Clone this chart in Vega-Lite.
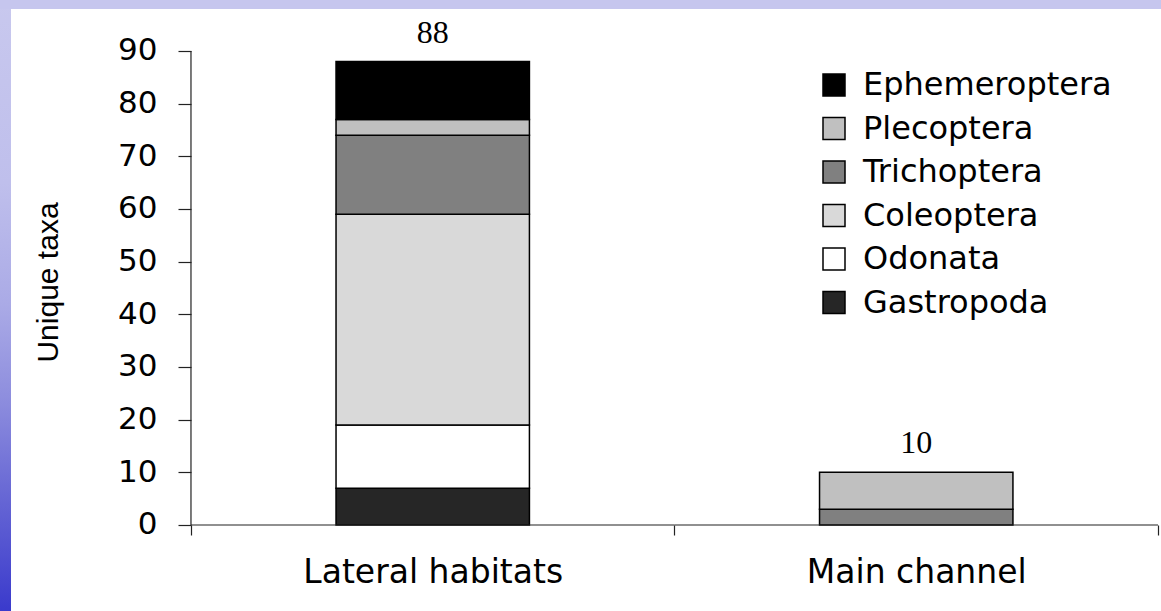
{
  "$schema": "https://vega.github.io/schema/vega-lite/v6.json",
  "width": 1161,
  "height": 611,
  "padding": 0,
  "autosize": {"type": "none"},
  "background": "white",
  "config": {"view": {"stroke": null}},
  "datasets": {
    "taxa": [
      {"habitat": "Lateral habitats", "taxon": "Gastropoda", "level": 1, "n": 7},
      {"habitat": "Lateral habitats", "taxon": "Odonata", "level": 2, "n": 12},
      {"habitat": "Lateral habitats", "taxon": "Coleoptera", "level": 3, "n": 40},
      {"habitat": "Lateral habitats", "taxon": "Trichoptera", "level": 4, "n": 15},
      {"habitat": "Lateral habitats", "taxon": "Plecoptera", "level": 5, "n": 3},
      {"habitat": "Lateral habitats", "taxon": "Ephemeroptera", "level": 6, "n": 11},
      {"habitat": "Main channel", "taxon": "Trichoptera", "level": 4, "n": 3},
      {"habitat": "Main channel", "taxon": "Plecoptera", "level": 5, "n": 7}
    ]
  },
  "data": {"name": "taxa"},
  "layer": [
    {
      "data": {"values": [{}]},
      "mark": {
        "type": "rect",
        "color": {
          "gradient": "linear", "x1": 0, "y1": 0, "x2": 0, "y2": 1,
          "stops": [
            {"offset": 0, "color": "#c8c8ee"},
            {"offset": 0.3, "color": "#bfbfec"},
            {"offset": 0.5, "color": "#aaaae6"},
            {"offset": 0.65, "color": "#8e8ede"},
            {"offset": 0.8, "color": "#6a6ad5"},
            {"offset": 1, "color": "#3a3acc"}
          ]
        }
      },
      "encoding": {}
    },
    {
      "data": {"values": [{}]},
      "mark": {
        "type": "rect",
        "color": {
          "gradient": "linear", "x1": 0, "y1": 0, "x2": 1, "y2": 0,
          "stops": [
            {"offset": 0, "color": "rgba(255,255,255,0)"},
            {"offset": 0.0094, "color": "rgba(255,255,255,0)"},
            {"offset": 0.0095, "color": "#ffffff"},
            {"offset": 1, "color": "#ffffff"}
          ]
        }
      },
      "encoding": {}
    },
    {
      "data": {"values": [{}]},
      "mark": {
        "type": "rect",
        "color": {
          "gradient": "linear", "x1": 0, "y1": 0, "x2": 0, "y2": 1,
          "stops": [
            {"offset": 0, "color": "#c6c6ee"},
            {"offset": 0.0146, "color": "#c6c6ee"},
            {"offset": 0.0147, "color": "rgba(198,198,238,0)"},
            {"offset": 1, "color": "rgba(198,198,238,0)"}
          ]
        }
      },
      "encoding": {}
    },
    {
      "mark": {"type": "bar", "width": {"band": 0.4}, "stroke": "#000000", "strokeWidth": 1.5},
      "encoding": {
        "x": {
          "field": "habitat",
          "type": "nominal",
          "scale": {"paddingInner": 0, "paddingOuter": 0.2006, "align": 0.9845},
          "axis": {
            "orient": "bottom",
            "offset": -86,
            "zindex": 2,
            "title": null,
            "domain": false,
            "tickBand": "extent",
            "tickSize": 10,
            "tickColor": "#222222",
            "tickWidth": 1.2,
            "labelAngle": 0,
            "labelFont": "DejaVu Sans",
            "labelFontSize": 33,
            "labelColor": "#000000",
            "labelPadding": 21,
            "labelLimit": 0
          }
        },
        "y": {
          "field": "n",
          "type": "quantitative",
          "stack": "zero",
          "scale": {"domain": [-16.33, 99.68], "nice": false, "zero": false},
          "axis": {
            "orient": "left",
            "offset": -191,
            "zindex": 2,
            "values": [0, 10, 20, 30, 40, 50, 60, 70, 80, 90],
            "domain": false,
            "grid": false,
            "tickSize": 13,
            "tickColor": "#222222",
            "tickWidth": 1.2,
            "labelFont": "DejaVu Sans",
            "labelFontSize": 31,
            "labelColor": "#000000",
            "labelPadding": 21,
            "title": "Unique taxa",
            "titleFont": "Liberation Sans",
            "titleFontSize": 30,
            "titleFontWeight": "normal",
            "titleColor": "#000000",
            "titleAngle": -90,
            "titleAlign": "center",
            "titleBaseline": "middle",
            "titleX": -143,
            "titleY": 282
          }
        },
        "color": {
          "field": "taxon",
          "type": "nominal",
          "scale": {
            "domain": ["Ephemeroptera", "Plecoptera", "Trichoptera", "Coleoptera", "Odonata", "Gastropoda"],
            "range": ["#000000", "#c0c0c0", "#808080", "#d9d9d9", "#ffffff", "#262626"]
          },
          "legend": {
            "orient": "none",
            "legendX": 818,
            "legendY": 69,
            "padding": 0,
            "title": null,
            "symbolType": "square",
            "symbolSize": 484,
            "symbolStrokeColor": "#000000",
            "symbolStrokeWidth": 1.5,
            "symbolOpacity": 1,
            "labelFont": "DejaVu Sans",
            "labelFontSize": 32,
            "labelColor": "#000000",
            "labelLimit": 0,
            "labelOffset": 13,
            "rowPadding": 11.5
          }
        },
        "order": {"field": "level", "type": "quantitative", "sort": "ascending"}
      }
    },
    {
      "transform": [{"filter": "datum.habitat === 'Lateral habitats' && datum.level === 1"}],
      "mark": {"type": "rule", "color": "#222222", "strokeWidth": 1.2},
      "encoding": {
        "x": {"field": "habitat", "type": "nominal", "bandPosition": 0},
        "y": {"datum": 0},
        "y2": {"datum": 90}
      }
    },
    {
      "transform": [{"aggregate": [{"op": "count", "as": "rows"}], "groupby": ["habitat"]}],
      "mark": {"type": "rule", "color": "#222222", "strokeWidth": 1.2},
      "encoding": {
        "x": {"field": "habitat", "type": "nominal", "bandPosition": 0},
        "x2": {"field": "habitat", "bandPosition": 1},
        "y": {"datum": 0}
      }
    },
    {
      "transform": [{"aggregate": [{"op": "sum", "field": "n", "as": "total"}], "groupby": ["habitat"]}],
      "mark": {"type": "text", "font": "Liberation Serif", "fontSize": 32, "color": "#000000", "baseline": "alphabetic", "dy": -19},
      "encoding": {
        "x": {"field": "habitat", "type": "nominal"},
        "y": {"field": "total", "type": "quantitative"},
        "text": {"field": "total", "type": "quantitative"}
      }
    }
  ]
}
